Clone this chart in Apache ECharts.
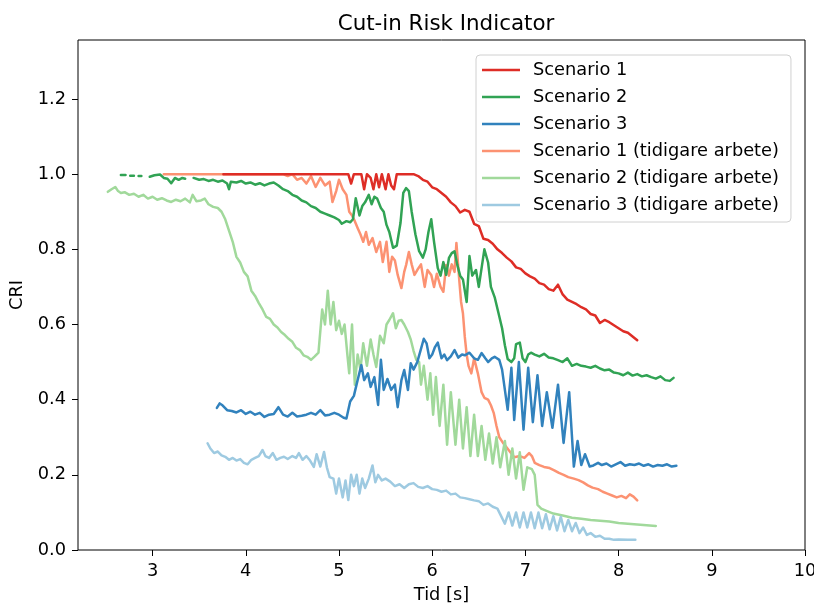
<!DOCTYPE html>
<html><head><meta charset="utf-8">
<script src="https://cdn.jsdelivr.net/npm/echarts@6/dist/echarts.min.js"></script>
<style>html,body{margin:0;padding:0;background:#fff}#c{width:814px;height:605px}</style>
</head><body><div id="c"></div>
<script>
const xTicks = [3, 4, 5, 6, 7, 8, 9, 10];
const yTicks = [0, 0.2, 0.4, 0.6, 0.8, 1.0, 1.2];
const names = ['Scenario 1', 'Scenario 2', 'Scenario 3', 'Scenario 1 (tidigare arbete)', 'Scenario 2 (tidigare arbete)', 'Scenario 3 (tidigare arbete)'];

const s1x = [3.76,4.5,5.1,5.13,5.16,5.24,5.27,5.3,5.34,5.37,5.4,5.43,5.46,5.5,5.53,5.56,5.59,5.62,5.8,5.85,5.9,5.95,6.0,6.05,6.1,6.15,6.2,6.25,6.3,6.35,6.4,6.45,6.5,6.55,6.6,6.65,6.7,6.75,6.8,6.85,6.9,6.95,7.0,7.05,7.1,7.15,7.2,7.25,7.3,7.35,7.4,7.45,7.5,7.55,7.6,7.65,7.7,7.75,7.8,7.85,7.9,7.95,8.0,8.05,8.1,8.15,8.2];
const s1y = [1.0,1.0,1.0,0.975,1.0,1.0,0.96,1.0,0.99,0.96,1.0,0.965,1.0,0.96,1.0,0.97,0.96,1.0,1.0,0.995,0.985,0.98,0.965,0.96,0.95,0.94,0.925,0.915,0.898,0.905,0.9,0.868,0.862,0.828,0.825,0.815,0.8,0.79,0.778,0.768,0.752,0.748,0.736,0.728,0.722,0.71,0.706,0.694,0.69,0.706,0.68,0.666,0.66,0.654,0.646,0.64,0.628,0.624,0.604,0.612,0.606,0.598,0.59,0.582,0.578,0.568,0.558];

const s2x = [2.66,2.71,2.73,2.76,2.8,2.82,2.85,2.88,2.92,2.97,3.02,3.08,3.12,3.16,3.2,3.24,3.28,3.32,3.35,3.38,3.44,3.5,3.55,3.6,3.65,3.7,3.75,3.8,3.82,3.84,3.9,3.95,4.0,4.05,4.1,4.15,4.2,4.25,4.3,4.35,4.4,4.45,4.5,4.55,4.6,4.65,4.7,4.75,4.8,4.85,4.9,4.95,5.0,5.03,5.08,5.12,5.15,5.18,5.22,5.25,5.28,5.32,5.35,5.38,5.41,5.45,5.48,5.51,5.54,5.58,5.62,5.66,5.69,5.72,5.75,5.78,5.82,5.86,5.9,5.93,5.96,5.99,6.02,6.06,6.09,6.12,6.15,6.18,6.21,6.24,6.27,6.3,6.33,6.37,6.4,6.43,6.47,6.5,6.53,6.56,6.6,6.63,6.67,6.71,6.75,6.78,6.81,6.85,6.88,6.9,6.94,6.97,7.0,7.03,7.06,7.1,7.15,7.2,7.25,7.3,7.35,7.4,7.45,7.5,7.55,7.6,7.65,7.7,7.75,7.8,7.85,7.9,7.95,8.0,8.05,8.1,8.15,8.2,8.25,8.3,8.35,8.4,8.45,8.5,8.55,8.59];
const s2y = [0.998,0.998,null,0.996,0.996,null,0.995,0.995,null,0.993,0.997,0.999,0.99,0.988,0.976,0.99,0.985,0.99,0.988,null,0.99,0.985,0.987,0.982,0.985,0.98,0.983,0.975,0.96,0.98,0.978,0.982,0.975,0.978,0.972,0.976,0.97,0.975,0.978,0.97,0.96,0.955,0.945,0.94,0.93,0.925,0.915,0.91,0.9,0.895,0.89,0.885,0.878,0.868,0.875,0.872,0.88,0.936,0.89,0.915,0.925,0.945,0.92,0.94,0.935,0.91,0.9,0.865,0.846,0.804,0.81,0.87,0.95,0.963,0.955,0.9,0.84,0.795,0.778,0.8,0.846,0.88,0.82,0.75,0.73,0.766,0.732,0.777,0.79,0.795,0.758,0.73,0.72,0.66,0.782,0.73,0.745,0.7,0.75,0.8,0.765,0.7,0.673,0.632,0.59,0.545,0.508,0.5,0.51,0.548,0.552,0.51,0.5,0.52,0.525,0.52,0.515,0.522,0.512,0.51,0.505,0.5,0.51,0.49,0.495,0.49,0.488,0.485,0.49,0.483,0.478,0.48,0.472,0.47,0.465,0.472,0.464,0.468,0.462,0.465,0.46,0.456,0.462,0.452,0.45,0.458];

const s3x = [3.69,3.72,3.75,3.8,3.85,3.9,3.95,4.0,4.05,4.1,4.15,4.2,4.25,4.3,4.35,4.4,4.45,4.5,4.55,4.6,4.65,4.7,4.75,4.8,4.85,4.9,4.95,5.0,5.05,5.08,5.12,5.16,5.2,5.24,5.27,5.31,5.34,5.38,5.42,5.45,5.48,5.52,5.56,5.6,5.63,5.67,5.7,5.74,5.77,5.8,5.84,5.88,5.91,5.94,5.97,6.0,6.03,6.06,6.1,6.13,6.16,6.2,6.24,6.28,6.32,6.35,6.4,6.45,6.49,6.53,6.57,6.6,6.64,6.67,6.72,6.75,6.78,6.81,6.85,6.88,6.93,6.98,7.03,7.08,7.13,7.18,7.23,7.29,7.35,7.41,7.47,7.52,7.56,7.6,7.64,7.69,7.73,7.78,7.82,7.87,7.92,7.97,8.02,8.07,8.12,8.17,8.22,8.27,8.32,8.37,8.42,8.47,8.52,8.57,8.62];
const s3y = [0.378,0.39,0.385,0.372,0.37,0.366,0.372,0.362,0.368,0.36,0.365,0.354,0.36,0.362,0.38,0.36,0.355,0.365,0.355,0.357,0.36,0.365,0.36,0.372,0.358,0.36,0.365,0.36,0.352,0.35,0.395,0.41,0.452,0.492,0.452,0.47,0.434,0.46,0.386,0.506,0.426,0.455,0.426,0.44,0.38,0.452,0.479,0.426,0.497,0.48,0.5,0.535,0.562,0.55,0.51,0.52,0.54,0.552,0.51,0.52,0.505,0.515,0.532,0.512,0.52,0.518,0.525,0.51,0.506,0.524,0.51,0.5,0.51,0.514,0.506,0.48,0.426,0.373,0.485,0.346,0.5,0.32,0.485,0.34,0.465,0.33,0.42,0.325,0.44,0.285,0.42,0.222,0.29,0.226,0.255,0.222,0.225,0.232,0.226,0.23,0.222,0.228,0.234,0.224,0.228,0.226,0.23,0.224,0.228,0.222,0.226,0.224,0.228,0.222,0.224];

const p1x = [3.12,3.5,4.0,4.4,4.45,4.5,4.55,4.6,4.65,4.7,4.75,4.8,4.85,4.9,4.93,4.97,5.0,5.04,5.08,5.11,5.14,5.17,5.2,5.23,5.26,5.29,5.32,5.36,5.4,5.44,5.47,5.51,5.54,5.57,5.6,5.63,5.67,5.7,5.72,5.75,5.78,5.81,5.84,5.88,5.92,5.95,5.99,6.02,6.05,6.09,6.12,6.15,6.18,6.21,6.24,6.26,6.29,6.31,6.33,6.35,6.37,6.39,6.42,6.45,6.49,6.53,6.56,6.6,6.63,6.66,6.69,6.72,6.76,6.82,6.88,6.94,6.99,7.04,7.07,7.1,7.15,7.2,7.26,7.31,7.36,7.41,7.46,7.52,7.57,7.62,7.67,7.72,7.78,7.83,7.88,7.93,7.98,8.03,8.08,8.12,8.16,8.2];
const p1y = [1.0,1.0,1.0,1.0,0.995,1.0,0.985,0.99,0.975,0.995,0.966,0.99,0.97,0.98,0.926,0.955,0.985,0.96,0.945,0.9,0.89,0.875,0.857,0.84,0.82,0.846,0.812,0.83,0.793,0.82,0.766,0.82,0.74,0.78,0.77,0.732,0.697,0.74,0.758,0.793,0.76,0.732,0.745,0.76,0.7,0.745,0.732,0.7,0.735,0.7,0.687,0.758,0.73,0.76,0.74,0.817,0.72,0.66,0.63,0.567,0.52,0.49,0.47,0.51,0.47,0.42,0.405,0.4,0.385,0.365,0.33,0.3,0.285,0.266,0.247,0.25,0.245,0.258,0.25,0.232,0.226,0.221,0.218,0.212,0.205,0.2,0.194,0.19,0.186,0.18,0.172,0.166,0.162,0.155,0.15,0.145,0.14,0.144,0.138,0.148,0.142,0.132];

const p2x = [2.52,2.56,2.6,2.63,2.66,2.7,2.75,2.8,2.85,2.9,2.95,3.0,3.05,3.1,3.15,3.2,3.25,3.3,3.35,3.4,3.43,3.47,3.52,3.56,3.6,3.65,3.7,3.74,3.78,3.82,3.86,3.9,3.94,3.98,4.02,4.06,4.1,4.14,4.18,4.22,4.26,4.3,4.34,4.38,4.42,4.46,4.5,4.54,4.58,4.62,4.66,4.7,4.74,4.78,4.82,4.85,4.88,4.91,4.94,4.97,5.0,5.03,5.06,5.09,5.11,5.14,5.17,5.2,5.23,5.26,5.3,5.34,5.37,5.4,5.44,5.48,5.51,5.54,5.58,5.61,5.64,5.67,5.7,5.74,5.77,5.8,5.83,5.86,5.88,5.91,5.95,5.98,6.01,6.04,6.08,6.12,6.16,6.2,6.25,6.29,6.33,6.37,6.41,6.45,6.49,6.53,6.57,6.61,6.65,6.69,6.73,6.78,6.82,6.86,6.9,6.94,6.98,7.02,7.07,7.1,7.13,7.17,7.22,7.3,7.4,7.5,7.6,7.7,7.8,7.9,8.0,8.1,8.2,8.3,8.4];
const p2y = [0.953,0.96,0.966,0.955,0.95,0.952,0.945,0.948,0.94,0.945,0.935,0.94,0.932,0.936,0.93,0.926,0.932,0.928,0.935,0.925,0.945,0.928,0.93,0.935,0.92,0.913,0.91,0.9,0.88,0.85,0.82,0.78,0.765,0.74,0.728,0.69,0.676,0.657,0.64,0.62,0.615,0.6,0.592,0.58,0.572,0.562,0.554,0.538,0.532,0.518,0.514,0.506,0.515,0.525,0.64,0.6,0.69,0.6,0.66,0.585,0.61,0.575,0.6,0.52,0.47,0.6,0.44,0.52,0.48,0.55,0.49,0.56,0.52,0.487,0.57,0.55,0.6,0.612,0.63,0.59,0.61,0.612,0.6,0.58,0.56,0.53,0.506,0.5,0.44,0.49,0.4,0.47,0.36,0.46,0.33,0.44,0.28,0.42,0.28,0.4,0.27,0.38,0.25,0.36,0.25,0.33,0.24,0.31,0.23,0.3,0.22,0.29,0.2,0.27,0.19,0.26,0.16,0.22,0.215,0.2,0.12,0.11,0.105,0.097,0.092,0.086,0.083,0.08,0.078,0.076,0.072,0.07,0.068,0.066,0.064];

const p3x = [3.59,3.62,3.66,3.7,3.74,3.78,3.82,3.86,3.9,3.94,3.98,4.02,4.06,4.1,4.14,4.18,4.21,4.25,4.29,4.33,4.37,4.41,4.45,4.5,4.54,4.57,4.61,4.65,4.69,4.73,4.76,4.8,4.84,4.87,4.9,4.94,4.97,5.0,5.04,5.07,5.1,5.13,5.16,5.19,5.22,5.25,5.28,5.32,5.36,5.39,5.42,5.46,5.5,5.55,5.6,5.65,5.7,5.75,5.8,5.85,5.9,5.95,6.0,6.05,6.1,6.15,6.2,6.25,6.3,6.35,6.4,6.45,6.5,6.55,6.6,6.65,6.7,6.74,6.78,6.82,6.86,6.9,6.94,6.98,7.02,7.06,7.1,7.14,7.18,7.22,7.26,7.3,7.34,7.38,7.42,7.46,7.5,7.54,7.58,7.62,7.66,7.7,7.75,7.8,7.85,7.9,7.95,8.0,8.1,8.18];
const p3y = [0.284,0.27,0.258,0.262,0.252,0.248,0.24,0.245,0.238,0.242,0.232,0.228,0.24,0.245,0.25,0.266,0.25,0.245,0.258,0.24,0.245,0.248,0.242,0.25,0.245,0.258,0.24,0.25,0.238,0.221,0.255,0.222,0.261,0.22,0.194,0.19,0.15,0.19,0.14,0.185,0.133,0.2,0.17,0.2,0.15,0.19,0.165,0.19,0.225,0.18,0.2,0.185,0.19,0.182,0.17,0.175,0.165,0.175,0.178,0.168,0.165,0.17,0.162,0.16,0.155,0.158,0.148,0.15,0.14,0.138,0.135,0.132,0.13,0.12,0.124,0.115,0.11,0.09,0.07,0.1,0.065,0.1,0.06,0.1,0.06,0.1,0.058,0.1,0.058,0.095,0.055,0.09,0.052,0.088,0.05,0.08,0.05,0.072,0.045,0.06,0.04,0.045,0.035,0.038,0.03,0.03,0.027,0.028,0.027,0.027];

function pairs(xs, ys) { return xs.map((x, i) => [x, ys[i] === null ? '-' : ys[i]]); }

const colors = ['#de2d26', '#31a354', '#3182bd', '#fc9272', '#a1d99b', '#9ecae1'];
const datasets = [[s1x, s1y], [s2x, s2y], [s3x, s3y], [p1x, p1y], [p2x, p2y], [p3x, p3y]];
const drawOrder = [3, 4, 5, 0, 1, 2];
const FONT = 'DejaVu Sans';
const FS = 17.8;

const series = drawOrder.map(i => ({
  name: names[i], type: 'line', symbol: 'none', showSymbol: false,
  data: pairs(datasets[i][0], datasets[i][1]),
  lineStyle: { color: colors[i], width: 2.5, join: 'round', cap: 'round' }, itemStyle: { color: colors[i] },
  connectNulls: false, animation: false
}));

const chart = echarts.init(document.getElementById('c'), null, { renderer: 'canvas' });
chart.setOption({
  animation: false,
  backgroundColor: '#fff',
  title: { text: 'Cut-in Risk Indicator', left: 441, top: 9, textAlign: 'center',
    textStyle: { fontFamily: FONT, fontSize: 21.4, fontWeight: 'normal', color: '#000' } },
  grid: { left: 78, right: 9, top: 40, bottom: 55, show: true, borderColor: '#000', borderWidth: 1, backgroundColor: 'transparent',
    containLabel: false, outerBoundsMode: 'none' },
  legend: {
    data: names, orient: 'vertical', left: 476, top: 55,
    itemWidth: 38, itemHeight: 18, itemGap: 9,
    padding: [6, 12, 8, 6],
    backgroundColor: 'rgba(255,255,255,0.8)', borderColor: '#d0d0d0', borderWidth: 1, borderRadius: 4,
    textStyle: { fontFamily: FONT, fontSize: FS, color: '#000', padding: [0, 0, 0, 8] },
    icon: 'path://M0,0L38,0L38,2.5L0,2.5Z'
  },
  xAxis: {
    type: 'value', min: 2.2, max: 10,
    name: 'Tid [s]', nameLocation: 'middle', nameGap: 36,
    nameTextStyle: { fontFamily: FONT, fontSize: FS, color: '#000' },
    axisLine: { show: false },
    axisTick: { show: true, length: 6, lineStyle: { color: '#000' }, customValues: xTicks },
    axisLabel: { fontFamily: FONT, fontSize: FS, color: '#000', margin: 12, customValues: xTicks, formatter: v => String(v) },
    splitLine: { show: false }
  },
  yAxis: {
    type: 'value', min: 0, max: 1.357,
    name: 'CRI', nameLocation: 'middle', nameGap: 49,
    nameTextStyle: { fontFamily: FONT, fontSize: FS, color: '#000' },
    axisLine: { show: false },
    axisTick: { show: true, length: 6, lineStyle: { color: '#000' }, customValues: yTicks },
    axisLabel: { fontFamily: FONT, fontSize: FS, color: '#000', margin: 12, customValues: yTicks, formatter: v => v.toFixed(1) },
    splitLine: { show: false }
  },
  series: series
});
</script>
</body></html>
